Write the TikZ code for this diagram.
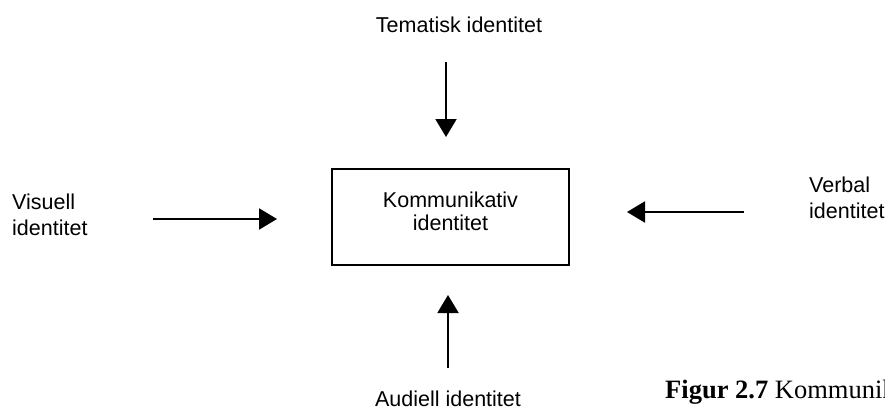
\documentclass[tikz,border=0pt]{standalone}
\usepackage{fontspec}
\setmainfont{Liberation Sans}
\newfontfamily\capfont{Liberation Serif}
\usetikzlibrary{arrows.meta}
\begin{document}
\begin{tikzpicture}[x=1pt,y=-1pt,
  lbl/.style={font=\fontsize{21.5}{26}\selectfont, inner sep=0pt, align=left},
  clbl/.style={font=\fontsize{21.5}{23}\selectfont, inner sep=0pt, align=center},
  idbox/.style={draw, line width=2pt, minimum width=237pt, minimum height=96pt, inner sep=0pt},
  flow/.style={line width=2pt, -{Triangle[length=18pt,width=21pt]}}]
  \clip (0,0) rectangle (885,409);
  \useasboundingbox (0,0) rectangle (885,409);
  \fill[white] (0,0) rectangle (885,409);

  % central box
  \node[idbox] (kom) at (450.5,217) {};
  \node[clbl, anchor=base] (komtxt) at (450.5,230) {Kommunikativ\\identitet};

  % surrounding identities
  \node[clbl, anchor=base] (tem) at (459,33) {Tematisk identitet};
  \node[clbl, anchor=base] (aud) at (448,406) {Audiell identitet};
  \node[lbl, anchor=base west] (vis) at (12,235) {Visuell\\identitet};
  \node[lbl, anchor=base west] (ver) at (809,218) {Verbal\\identitet};

  % arrow ends
  \coordinate (temA) at (446,62);  \coordinate (temB) at (446,137);
  \coordinate (audA) at (448,368); \coordinate (audB) at (448,295);
  \coordinate (visA) at (153,219); \coordinate (visB) at (277,219);
  \coordinate (verA) at (744,212); \coordinate (verB) at (627,212);

  \draw[flow] (temA) -- (temB);
  \draw[flow] (audA) -- (audB);
  \draw[flow] (visA) -- (visB);
  \draw[flow] (verA) -- (verB);

  % figure caption, running past the right edge
  \node[anchor=base west, inner sep=0pt, font=\capfont\fontsize{26.5}{30}\selectfont] (cap) at (665,398)
    {\textbf{Figur 2.7} Kommunikativ identitet};
\end{tikzpicture}
\end{document}
